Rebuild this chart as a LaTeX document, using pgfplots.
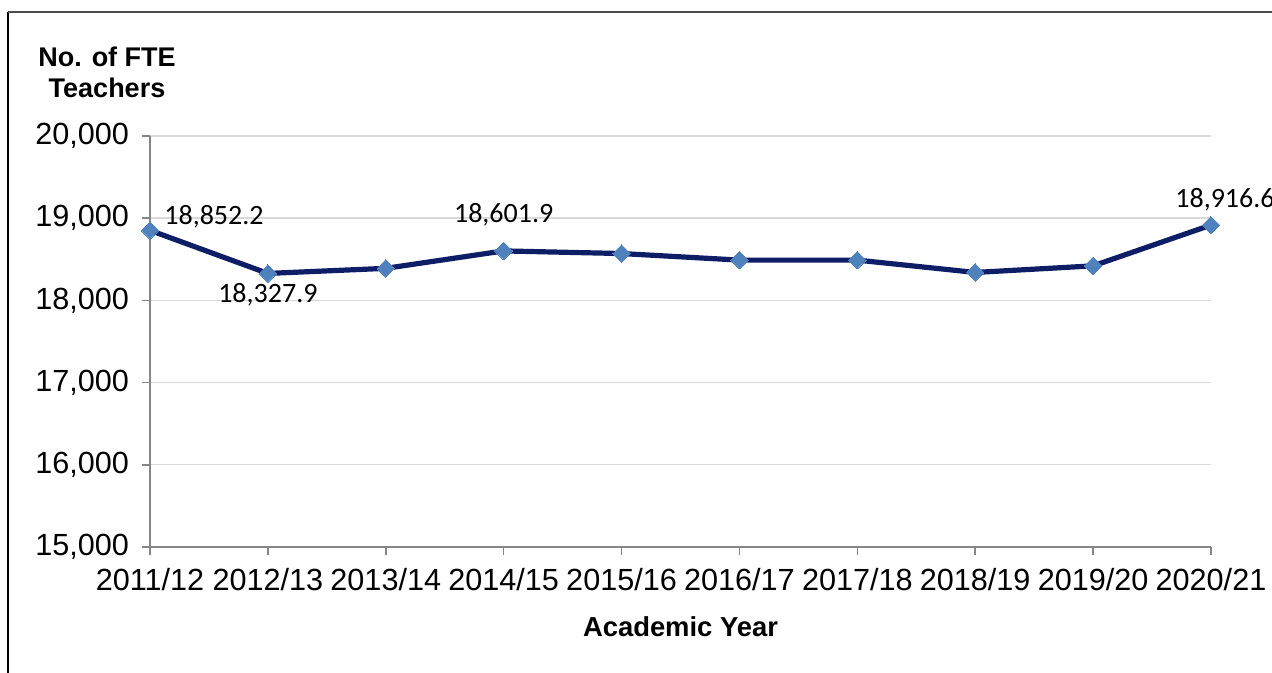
\documentclass[border=0pt]{standalone}
\usepackage{pgfplots}
\pgfplotsset{compat=1.18}
\usepackage{fontspec}
\setmainfont{Liberation Sans}
\newfontfamily\calib{Carlito}
\definecolor{LineNavy}{HTML}{0E1E66}
\definecolor{MarkBlue}{HTML}{4F81BD}
\definecolor{AxisGray}{HTML}{868686}
\definecolor{GridGray}{HTML}{D9D9D9}

\begin{document}
\begin{tikzpicture}[x=0.5pt,y=0.5pt]
\useasboundingbox (0,0) rectangle (1272,673);
% outer frame (partly cut)
\draw[black, line width=1pt] (8,0) -- (8,661);
\draw[black!70, line width=0.6pt] (8,661) -- (1272,661);
\begin{axis}[
    at={(75pt,63pt)}, anchor=south west,
    scale only axis,
    width=530.5pt, height=205.5pt,
    xmin=0, xmax=9, ymin=15000, ymax=20000,
    xtick={0,...,9},
    xticklabels={2011/12,2012/13,2013/14,2014/15,2015/16,2016/17,2017/18,2018/19,2019/20,2020/21},
    ytick={15000,16000,...,20000},
    scaled y ticks=false,
    /pgf/number format/fixed,
    /pgf/number format/1000 sep={,},
    /pgf/number format/assume math mode=true,
    ticklabel style={font=\fontsize{15.3}{18}\selectfont},
    xticklabel style={yshift=-3pt},
    yticklabel style={xshift=-3pt},
    axis x line*=bottom, axis y line*=left,
    axis line style={AxisGray, line width=0.8pt},
    tick style={AxisGray, line width=0.8pt},
    tick align=outside, major tick length=4pt,
    ymajorgrids, grid style={GridGray, line width=0.7pt},
    clip=false,
    xlabel={\bfseries Academic Year},
    xlabel style={font=\fontsize{13.7}{16}\selectfont, yshift=-6pt},
]
\addplot[LineNavy, line width=2.6pt, mark=square*, mark size=3.1pt,
    mark options={rotate=45, fill=MarkBlue, draw=MarkBlue, line width=0pt}]
  coordinates {(0,18852.2) (1,18327.9) (2,18390) (3,18601.9) (4,18570)
               (5,18490) (6,18490) (7,18340) (8,18420) (9,18916.6)};
% data labels
\addplot[draw=none, mark=none, nodes near coords,
    point meta=explicit symbolic,
    every node near coord/.style={anchor=south west, font=\calib\fontsize{14}{16}\selectfont, xshift=6pt, yshift=0pt, inner sep=1pt}]
  coordinates {(0,18852.2) [18,852.2]};
\addplot[draw=none, mark=none, nodes near coords,
    point meta=explicit symbolic,
    every node near coord/.style={anchor=north, font=\calib\fontsize{14}{16}\selectfont, yshift=-4pt, inner sep=1pt}]
  coordinates {(1,18327.9) [18,327.9]};
\addplot[draw=none, mark=none, nodes near coords,
    point meta=explicit symbolic,
    every node near coord/.style={anchor=south, font=\calib\fontsize{14}{16}\selectfont, yshift=11pt, inner sep=1pt}]
  coordinates {(3,18601.9) [18,601.9]};
\addplot[draw=none, mark=none, nodes near coords,
    point meta=explicit symbolic,
    every node near coord/.style={anchor=south west, font=\calib\fontsize{14}{16}\selectfont, xshift=-19pt, yshift=6pt, inner sep=1pt}]
  coordinates {(9,18916.6) [18,916.6]};
\end{axis}
\node[align=center, font=\bfseries\fontsize{13.5}{15.5}\selectfont] at (107,601) {No. of FTE\\Teachers};
\end{tikzpicture}
\end{document}
